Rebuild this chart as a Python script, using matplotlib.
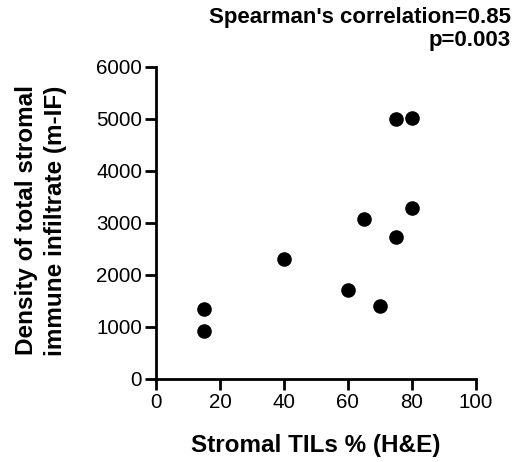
import matplotlib
matplotlib.use("Agg")
import matplotlib.pyplot as plt

# stromal TILs (%) vs density of stromal immune infiltrate
tils = [15, 15, 40, 60, 65, 70, 75, 75, 80, 80]
density = [1335, 930, 2305, 1710, 3065, 1400, 4995, 2735, 5005, 3280]
x_ticks = [0, 20, 40, 60, 80, 100]
y_ticks = [0, 1000, 2000, 3000, 4000, 5000, 6000]

plt.rcParams['font.family'] = ['Liberation Sans', 'DejaVu Sans']

fig = plt.figure(figsize=(5.24, 4.62), dpi=100)
ax = fig.add_axes([0.2977, 0.1797, 0.6103, 0.6759])

ax.scatter(tils, density, s=90, color='black', zorder=3, clip_on=False)

ax.set_xlim(0, 100)
ax.set_ylim(0, 6000)
ax.set_xticks(x_ticks)
ax.set_yticks(y_ticks)
ax.tick_params(labelsize=14.8, width=2, length=8, direction='out', pad=2)

for s in ['top', 'right']:
    ax.spines[s].set_visible(False)
for s in ['left', 'bottom']:
    ax.spines[s].set_linewidth(2)

ax.set_xlabel("Stromal TILs % (H&E)", fontsize=17.5, fontweight='bold', labelpad=16)
# y label placed by hand, two centred lines
fig.text(0.078, 0.523, "Density of total stromal\nimmune infiltrate (m-IF)", rotation=90,
         ha='center', va='center', multialignment='center', fontsize=17.5,
         fontweight='bold', linespacing=1.3)

fig.text(0.975, 0.937, "Spearman's correlation=0.85\np=0.003", ha='right', va='center',
         fontsize=16, fontweight='bold', linespacing=1.15)

fig.savefig("out.png", dpi=100)
